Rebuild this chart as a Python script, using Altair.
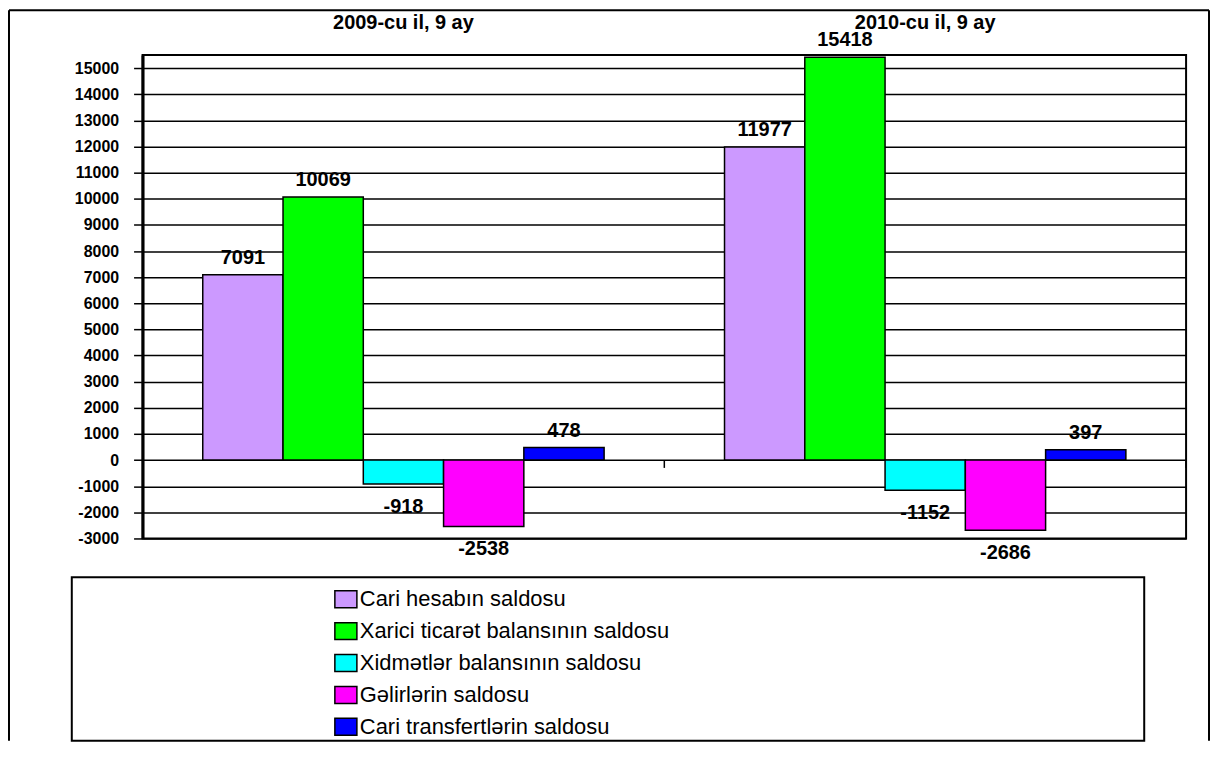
import altair as alt
import pandas as pd

years = ["2009-cu il, 9 ay", "2010-cu il, 9 ay"]
series = [
    "Cari hesabın saldosu",
    "Xarici ticarət balansının saldosu",
    "Xidmətlər balansının saldosu",
    "Gəlirlərin saldosu",
    "Cari transfertlərin saldosu",
]
values_2009 = [7091, 10069, -918, -2538, 478]
values_2010 = [11977, 15418, -1152, -2686, 397]
colors = ["#CC99FF", "#00FF00", "#00FFFF", "#FF00FF", "#0000FF"]
y_ticks = list(range(-3000, 15001, 1000))

rows = []
for s, v in zip(series, values_2009):
    rows.append({"year": years[0], "series": s, "value": v, "label": str(v)})
for s, v in zip(series, values_2010):
    rows.append({"year": years[1], "series": s, "value": v, "label": str(v)})
df = pd.DataFrame(rows)

FONT = "Liberation Sans"
W, H = 1047, 485

x_scale = alt.Scale(paddingInner=0, paddingOuter=0)
x_axis = alt.Axis(
    orient="top", title=None, ticks=False, tickSize=0, domain=False,
    labelFont=FONT, labelFontSize=20, labelFontWeight="bold",
    labelPadding=23, labelAngle=0, labelColor="black",
)
xoff_enc = alt.XOffset(
    "series:N", sort=series,
    scale=alt.Scale(paddingInner=0, paddingOuter=0.75),
)
y_scale = alt.Scale(domain=[-3000, 15500], nice=False, zero=False)
y_axis = alt.Axis(
    title=None, values=y_ticks, labelExpr="toString(datum.value)",
    labelOverlap=False, labelFlush=False,
    labelFont=FONT, labelFontSize=16, labelFontWeight="bold",
    labelColor="black", labelPadding=15,
    tickSize=9, tickColor="black", tickWidth=1.5,
    domainColor="black", domainWidth=3,
    grid=True, gridColor="black", gridWidth=1.5,
)
x_enc = alt.X("year:N", sort=years, scale=x_scale, axis=x_axis)
y_enc = alt.Y("value:Q", scale=y_scale, axis=y_axis)

color_enc = alt.Color(
    "series:N",
    scale=alt.Scale(domain=series, range=colors),
    legend=alt.Legend(
        title=None, orient="none", legendX=193, legendY=535,
        direction="vertical", padding=0, rowPadding=8,
        labelFont=FONT, labelFontSize=22, labelColor="black",
        labelOffset=3, labelLimit=800,
        symbolType="M-1.3,-1H1.3V1H-1.3Z", symbolSize=289,
        symbolStrokeColor="black", symbolStrokeWidth=1.5, symbolOpacity=1,
    ),
)

bars = alt.Chart(df).mark_bar(stroke="black", strokeWidth=1.5, opacity=1).encode(
    x=x_enc, xOffset=xoff_enc, y=y_enc, color=color_enc
)

pos_labels = alt.Chart(df).transform_filter("datum.value >= 0").mark_text(
    font=FONT, fontSize=20, fontWeight="bold", color="black",
    baseline="middle", dy=-17,
).encode(x=x_enc, xOffset=xoff_enc, y=y_enc, text="label:N")

neg_labels = alt.Chart(df).transform_filter("datum.value < 0").mark_text(
    font=FONT, fontSize=20, fontWeight="bold", color="black",
    baseline="middle", dy=23,
).encode(x=x_enc, xOffset=xoff_enc, y=y_enc, text="label:N")

year_df = pd.DataFrame({"year": years})
cat_ticks = alt.Chart(year_df).mark_rule(color="black", strokeWidth=1.5).encode(
    x=alt.X("year:N", sort=years, scale=x_scale, axis=x_axis, bandPosition=1),
    y=alt.Y(datum=0, scale=y_scale, axis=y_axis), y2=alt.datum(-300),
)

one = pd.DataFrame({"k": [0]})
frame_left = alt.Chart(one).mark_rule(color="black", strokeWidth=2).encode(
    x=alt.value(-134), y=alt.value(-45), y2=alt.value(688))
frame_top = alt.Chart(one).mark_rule(color="black", strokeWidth=2).encode(
    x=alt.value(-134), x2=alt.value(1070), y=alt.value(-45))
frame_right = alt.Chart(one).mark_rule(color="black", strokeWidth=2).encode(
    x=alt.value(1070), y=alt.value(-45), y2=alt.value(688))
legend_box = alt.Chart(one).mark_rect(fill="white", stroke="black", strokeWidth=2).encode(
    x=alt.value(-71), x2=alt.value(1005), y=alt.value(524), y2=alt.value(688))

chart = alt.layer(
    frame_left, frame_top, frame_right, legend_box,
    bars, cat_ticks, pos_labels, neg_labels,
).properties(
    width=W, height=H, padding=0, background="white"
).configure_view(
    stroke="black", strokeWidth=2
)

chart.save("out.html", embed_options={"renderer": "svg", "actions": False})
